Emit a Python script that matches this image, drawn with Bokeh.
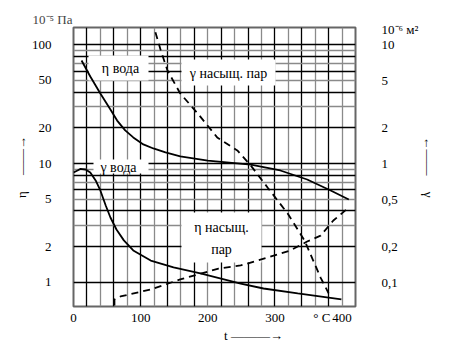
from bokeh.plotting import figure
from bokeh.models import (Range1d, LogScale, LogAxis, FixedTicker, Grid, Label, Title,
                          CustomJSTickFormatter)
from bokeh.embed import file_html
from bokeh.resources import INLINE
import math

# ---------------- data ----------------
x_ticks = [0, 100, 200, 300, 400]
eta_ticks = [1, 2, 5, 10, 20, 50, 100]
gamma_ticks = [0.1, 0.2, 0.5, 1, 2, 5, 10]

# eta water, 10^-5 Pa s (left axis)
t_eta_water = [12, 25, 40, 55, 65, 77, 89, 104, 119, 137, 159, 200, 264, 308, 348, 383, 410]
eta_water = [73.6, 54.0, 38.9, 28.5, 23.0, 19.0, 16.6, 14.5, 13.4, 12.4, 11.5, 10.6, 9.8, 8.75,
             7.35, 5.94, 4.99]

# gamma water, 10^-6 m2/s (right axis)
t_gamma_water = [0, 6, 10, 18, 25, 33, 40, 48, 55, 64, 75, 89, 115, 149, 189, 249, 283, 334, 399]
gamma_water = [0.842, 0.875, 0.901, 0.892, 0.842, 0.721, 0.594, 0.444, 0.352, 0.279, 0.226,
               0.186, 0.153, 0.134, 0.119, 0.098, 0.089, 0.081, 0.072]

# gamma saturated steam (right axis)
t_gamma_steam = [122, 130, 140, 159, 185, 214, 244, 264, 289, 319, 344, 357, 368, 380]
gamma_steam = [12.7, 8.94, 6.07, 3.89, 2.64, 1.66, 1.29, 0.964, 0.630, 0.380, 0.226, 0.153,
               0.110, 0.081]

# eta saturated steam (left axis)
t_eta_steam = [61, 61, 70, 115, 159, 216, 249, 289, 323, 348, 368, 387, 410]
eta_steam = [0.641, 0.72, 0.763, 0.873, 1.06, 1.31, 1.39, 1.62, 1.86, 2.21, 2.48, 3.32, 4.27]

# ---------------- layout ----------------
FL, FR, FT, FB = 73, 355, 27, 306
X0, X1 = 0, 420
Y0, Y1 = 0.628, 139.5
_ly0, _ly1 = math.log10(Y0), math.log10(Y1)


def X(px):
    return X0 + (px - FL) * (X1 - X0) / (FR - FL)


def Y(py):
    return 10 ** (_ly0 + (FB - py) * (_ly1 - _ly0) / (FB - FT))


FONT = "Times New Roman"
EM = "\u2003"
DASH = "\u2014"

p = figure(width=471, height=345, x_range=Range1d(X0, X1), y_range=Range1d(Y0, Y1),
           y_axis_type="log", output_backend="svg", toolbar_location=None,
           min_border_left=FL, min_border_right=471 - FR, min_border_top=FT,
           min_border_bottom=345 - FB)
p.extra_y_ranges = {"right": Range1d(Y0 / 10, Y1 / 10)}
p.extra_y_scales = {"right": LogScale()}
p.outline_line_color = "#666666"
p.outline_line_width = 2
p.background_fill_color = "white"
p.border_fill_color = "white"
p.xgrid.visible = False
p.ygrid.visible = False

fmt = CustomJSTickFormatter(code="return String(tick).replace('.', ',');")


def style_axis(ax):
    ax.axis_line_color = None
    ax.major_tick_line_color = None
    ax.minor_tick_line_color = None
    ax.major_tick_out = 0
    ax.major_tick_in = 0
    ax.minor_tick_out = 0
    ax.minor_tick_in = 0
    ax.major_label_text_font = FONT
    ax.major_label_text_font_size = "13px"
    ax.major_label_text_color = "black"
    ax.axis_label_text_font = FONT
    ax.axis_label_text_font_style = "normal"
    ax.axis_label_text_font_size = "13px"
    ax.axis_label_text_color = "black"


# bottom axis; "° C" sits among the tick labels at about 370
xa = p.xaxis[0]
xa.ticker = FixedTicker(ticks=x_ticks + [370])
xa.major_label_overrides = {370: "° C"}
style_axis(xa)
xa.major_label_standoff = 3
xa.axis_label = EM * 6 + "t " + DASH * 3 + "\u2192"
xa.axis_label_standoff = 0

ya = p.yaxis[0]
ya.ticker = FixedTicker(ticks=eta_ticks)
ya.formatter = fmt
style_axis(ya)
ya.major_label_text_align = "center"
ya.major_label_standoff = 22
ya.axis_label = "η" + EM + " " + DASH * 2 + "\u2192"
ya.axis_label_standoff = 0

# right axis; unit label sits at the top as a label of the axis (value 13.3)
ra = LogAxis(y_range_name="right", ticker=FixedTicker(ticks=gamma_ticks + [13.3]),
             formatter=fmt)
style_axis(ra)
ra.major_label_overrides = {13.3: "10⁻⁶ м²"}
ra.major_label_text_align = "center"
ra.major_label_standoff = 26
ra.axis_label = "\u2190" + DASH * 2 + " " + EM + "γ"
ra.axis_label_standoff = 0
p.add_layout(ra, "right")

p.add_layout(Title(text="10⁻⁵ Па", align="left", offset=-41, text_font=FONT,
                   text_font_style="normal", text_font_size="13px", standoff=2), "above")

# grid lines
vx_black = [20, 60, 100, 140, 180, 220, 260, 300, 340, 380]
vx_gray = [40, 80, 120, 160, 200, 240, 280, 320, 360, 400]
hy_black = [1, 2, 4, 6, 8, 10, 20, 40, 60, 80, 100]
hy_gray = [3, 5, 7, 9, 30, 50, 70, 90]
for ticks, dim, col in [(vx_black, 0, "black"), (vx_gray, 0, "#8a8a8a"),
                        (hy_black, 1, "black"), (hy_gray, 1, "#8a8a8a")]:
    g = Grid(dimension=dim, ticker=FixedTicker(ticks=ticks), grid_line_color=col,
             grid_line_width=1.3)
    p.add_layout(g)

# white label boxes
boxes = [(88, 148, 55, 80), (181, 275, 59, 85), (93, 148, 159, 173), (181, 261, 212, 262)]
p.quad(left=[X(b[0]) for b in boxes], right=[X(b[1]) for b in boxes],
       top=[Y(b[2]) for b in boxes], bottom=[Y(b[3]) for b in boxes],
       fill_color="white", line_color=None)

# curves
p.line(t_eta_water, eta_water, line_color="black", line_width=1.8)
p.line(t_gamma_water, gamma_water, line_color="black", line_width=1.8, y_range_name="right")
p.line(t_gamma_steam, gamma_steam, line_color="black", line_width=1.8, line_dash="7 5",
       y_range_name="right")
p.line(t_eta_steam, eta_steam, line_color="black", line_width=1.8, line_dash="7 5")


def lab(text, px, py, size="14px", align="center"):
    p.add_layout(Label(x=px, y=py, x_units="canvas", y_units="canvas", text=text,
                       text_font=FONT, text_font_size=size,
                       text_align=align, text_baseline="middle", text_color="black"))


lab("η вода", 120, 68)
lab("γ насыщ. пар", 228, 73)
lab("γ вода", 118, 167)
lab("η насыщ.", 221, 227)
lab("пар", 221, 249)

open("out.html", "w").write(file_html(p, INLINE))
